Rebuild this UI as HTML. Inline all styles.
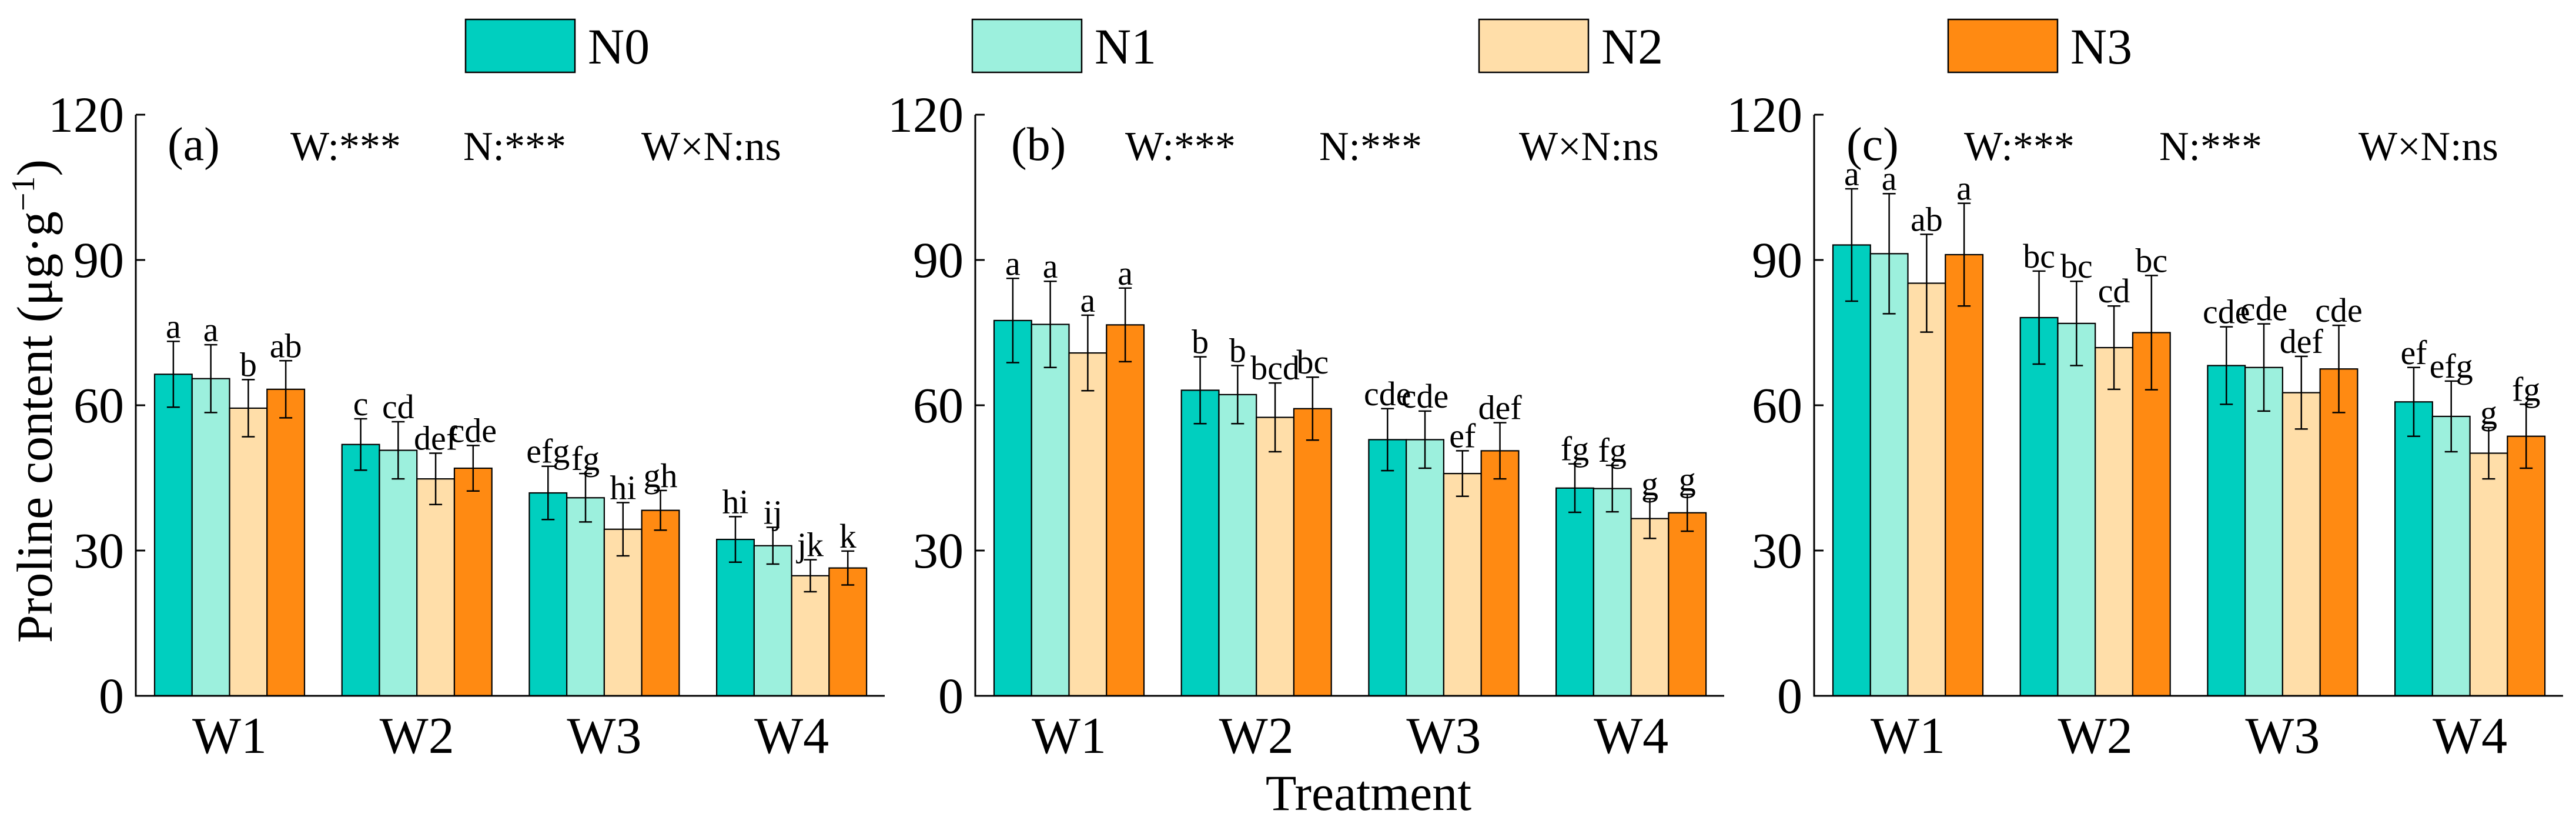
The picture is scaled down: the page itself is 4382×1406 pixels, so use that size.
<!DOCTYPE html>
<html><head><meta charset="utf-8"><style>
html,body{margin:0;padding:0;background:#fff;}
svg{display:block;font-family:"Liberation Serif","Times New Roman",serif;}
</style></head><body>
<svg id="chart" width="4382" height="1406" viewBox="0 0 4382 1406" xmlns="http://www.w3.org/2000/svg">
<g id="legend"></g>
<g id="panels"></g>
<text x="0" y="0" font-size="86" text-anchor="middle" transform="translate(88,682) rotate(-90)">Proline content (μg·g<tspan font-size="56" dy="-30">−1</tspan><tspan dy="30">)</tspan></text>
<text x="2328" y="1377" font-size="86" text-anchor="middle">Treatment</text>
</svg>
<script>
const categories = ["W1","W2","W3","W4"];
const seriesNames = ["N0","N1","N2","N3"];
const yTicks = [0,30,60,90,120];
const panelLabels = ["(a)","(b)","(c)"];
// values[series][category]
const valuesA = [[66.4,51.9,41.9,32.3],[65.5,50.7,40.9,31.0],[59.4,44.8,34.4,24.8],[63.3,47.0,38.3,26.4]];
const errorsA = [[6.8,5.3,5.5,4.7],[7.0,5.9,5.0,3.8],[5.9,5.3,5.5,3.3],[5.9,4.7,4.1,3.5]];
const lettersA = [["a","c","efg","hi"],["a","cd","fg","ij"],["b","def","hi","jk"],["ab","cde","gh","k"]];
const valuesB = [[77.5,63.1,52.9,42.9],[76.7,62.2,52.9,42.8],[70.8,57.5,45.9,36.6],[76.6,59.3,50.6,37.8]];
const errorsB = [[8.7,6.9,6.4,5.0],[8.9,6.0,5.9,4.8],[7.8,7.1,4.7,4.1],[7.6,6.5,5.8,3.8]];
const lettersB = [["a","b","cde","fg"],["a","b","cde","fg"],["a","bcd","ef","g"],["a","bc","def","g"]];
const valuesC = [[93.1,78.1,68.2,60.7],[91.3,76.9,67.8,57.7],[85.2,71.9,62.6,50.1],[91.1,75.0,67.5,53.6]];
const errorsC = [[11.6,9.6,8.0,7.1],[12.4,8.7,9.0,7.3],[10.1,8.6,7.5,5.3],[10.6,11.8,9.0,6.6]];
const lettersC = [["a","bc","cde","ef"],["a","bc","cde","efg"],["ab","cd","def","g"],["a","bc","cde","fg"]];

const colors = ["#00CFBF","#9CF0DD","#FFDEA9","#FF8A12"];
const NS = "http://www.w3.org/2000/svg";
function mk(tag, attrs, parent){const e=document.createElementNS(NS,tag);for(const k in attrs)e.setAttribute(k,attrs[k]);parent.appendChild(e);return e;}

const legend = document.getElementById('legend');
const legendX = [792,1654,2516,3314];
seriesNames.forEach((n,i)=>{
  const r = mk('rect',{x:legendX[i],y:33,width:186,height:90,fill:colors[i],stroke:'#000','stroke-width':2.5},legend);
  
  
  const t = mk('text',{x:legendX[i]+208,y:108,'font-size':86},legend);
  t.textContent = n;
  
  
});

const panelsData = [
  {x0:231, vals:valuesA, errs:errorsA, lets:lettersA, ann:[54,263,557,860]},
  {x0:1659, vals:valuesB, errs:errorsB, lets:lettersB, ann:[61,255,585,925]},
  {x0:3086, vals:valuesC, errs:errorsC, lets:lettersC, ann:[55,255,587,926]}
];
const y0 = 1183, pxPerUnit = 988/120, axisLen = 1274;
function yScale(v){return y0 - v*pxPerUnit;}
const groupOffset = 32, groupPitch = 318.7, barW = 63.75;
function xScale(x0, ci, si){return x0 + groupOffset + ci*groupPitch + si*barW;}

const panels = document.getElementById('panels');
panelsData.forEach((p,pi)=>{
  const g = mk('g',{},panels);
  
  
  p.vals.forEach((ser,si)=>{
    ser.forEach((v,ci)=>{
      const x = xScale(p.x0,ci,si);
      const r = mk('rect',{x:x,y:yScale(v),width:barW,height:y0-yScale(v),fill:colors[si],stroke:'#000','stroke-width':2.2},g);
      
      
    });
  });
  p.vals.forEach((ser,si)=>{
    ser.forEach((v,ci)=>{
      const cx = xScale(p.x0,ci,si)+barW/2;
      const e = p.errs[si][ci];
      const eg = mk('g',{stroke:'#000','stroke-width':2.5},g);
      
      
      mk('line',{x1:cx,x2:cx,y1:yScale(v-e),y2:yScale(v+e)},eg);
      mk('line',{x1:cx-11,x2:cx+11,y1:yScale(v-e),y2:yScale(v-e)},eg);
      mk('line',{x1:cx-11,x2:cx+11,y1:yScale(v+e),y2:yScale(v+e)},eg);
      const t = mk('text',{x:cx,y:yScale(v+e)-6,'font-size':58,'text-anchor':'middle'},g);
      t.textContent = p.lets[si][ci];
      
      
    });
  });
  const ax = mk('path',{d:`M${p.x0} ${yScale(120)} V${y0} H${p.x0+axisLen}`,fill:'none',stroke:'#000','stroke-width':3},g);
  
  
  yTicks.forEach(tv=>{
    const tl = mk('line',{x1:p.x0,x2:p.x0+16,y1:yScale(tv),y2:yScale(tv),stroke:'#000','stroke-width':3},g);
    
    
    const tt = mk('text',{x:p.x0-20,y:yScale(tv)+29,'font-size':86,'text-anchor':'end'},g);
    tt.textContent = tv;
    
    
  });
  categories.forEach((c,ci)=>{
    const t = mk('text',{x:p.x0+groupOffset+ci*groupPitch+barW*2,y:1280,'font-size':88,'text-anchor':'middle'},g);
    t.textContent = c;
    
    
  });
  const annTexts = [panelLabels[pi],"W:***","N:***","W×N:ns"];
  annTexts.forEach((s,k)=>{
    const t = mk('text',{x:p.x0+p.ann[k],y:272,'font-size':k===0?80:70},g);
    t.textContent = s;
    
    
  });
});
</script>
</body></html>
